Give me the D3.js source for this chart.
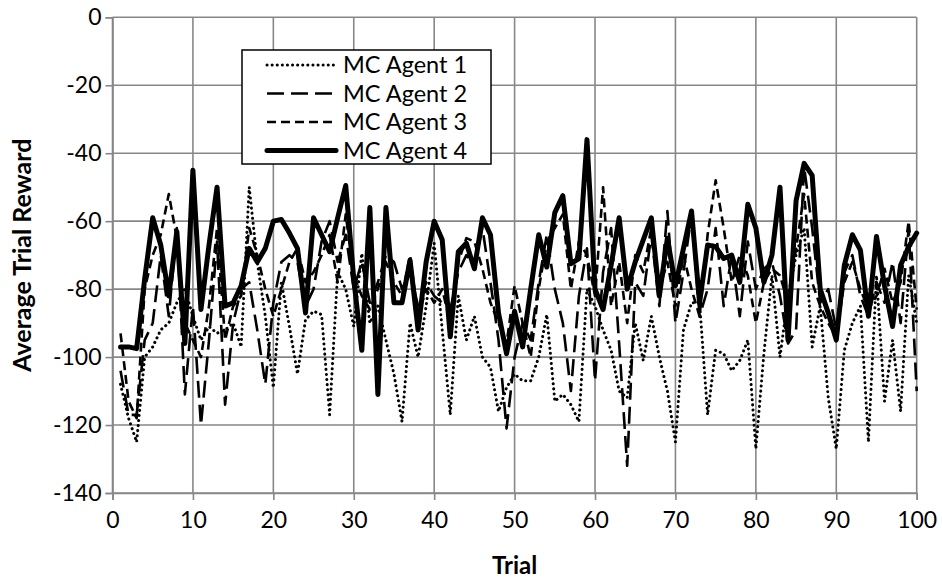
<!DOCTYPE html>
<html><head><meta charset="utf-8">
<script src="https://cdn.jsdelivr.net/npm/d3@7"></script>
<style>body{margin:0;background:#fff}svg{display:block}</style>
</head><body>
<svg id="chart" width="942" height="580"></svg>
<script>
const trials = d3.range(1, 101);
const agent1 = [-108,-118,-125,-100,-97,-92,-90,-84,-80,-88,
  -95,-91,-93,-92,-90,-97,-50,-72,-88,-109,
  -78,-91,-105,-89,-86.5,-87.5,-117,-75,-80,-91,
  -69.5,-90,-85,-95,-105,-119,-90,-100,-85,-66.5,
  -92,-117,-82,-95,-88,-100,-103,-116,-109,-105,
  -107,-107,-100,-87.5,-113,-111,-114,-119,-80,-85,
  -92,-98,-110,-112,-90,-101,-88,-100,-110,-125,
  -92,-84,-84,-117,-98,-99,-104,-101,-95,-127,
  -99,-76,-100,-82,-70,-62,-97,-85,-112,-127,
  -98,-90,-85,-125,-76,-113,-95,-116,-76,-90];
const agent2 = [-104,-117,-117,-95,-90,-70,-88,-62,-111,-85,
  -120,-95,-66,-114,-90,-80,-78,-92,-108,-84,
  -72,-70,-72,-85,-80,-66,-60,-72,-64,-80,
  -72,-84,-78,-70,-72,-80,-75,-85,-78,-82,
  -84,-86,-75,-70,-73,-62,-78,-95,-121,-100,
  -90,-95,-78,-64,-80,-90,-110,-82,-68,-107,
  -75,-62,-96,-132,-78,-82,-64,-85,-57,-90,
  -75,-58,-88,-80,-62,-85,-70,-88,-66,-80,
  -74,-72,-82,-96,-92,-44,-62,-84,-80,-92,
  -75,-70,-82,-88,-78,-84,-72,-90,-62,-110];
const agent3 = [-93,-113,-118,-80,-70,-64,-52,-65,-90,-95,
  -100,-85,-62,-95,-85,-82,-62,-70,-80,-88,
  -80,-72,-68,-78,-75,-70,-64,-78,-58,-76,
  -82,-86,-80,-72,-78,-82,-70,-88,-80,-84,
  -80,-90,-72,-65,-66,-74,-84,-90,-96,-79,
  -90,-100,-80,-66,-62,-58,-80,-66,-70,-82,
  -50,-85,-72,-90,-70,-75,-62,-80,-72,-85,
  -70,-80,-88,-64,-48,-62,-78,-70,-76,-90,
  -78,-74,-76,-84,-68,-52,-78,-85,-90,-94,
  -78,-72,-80,-86,-82,-74,-84,-78,-60,-86];
const agent4 = [-97,-97,-97.5,-77,-59,-67,-82,-63,-96,-45,
  -86,-67,-50,-85,-84,-79,-68,-72,-68,-60,
  -59.5,-63.5,-68,-87,-59,-64,-69,-59,-49.5,-77,
  -98,-56,-111,-56,-84,-84,-71.5,-92,-72,-60,
  -65.5,-94,-69,-66.5,-74,-59,-64,-87,-99,-86.5,
  -97,-80,-64,-73.5,-57.5,-52.5,-72.5,-71,-36,-80,
  -86,-73,-59,-80,-72,-65.5,-59,-82,-65,-79,
  -68,-57,-84,-67,-67.5,-71,-70,-78,-55,-62,
  -78,-70,-50,-95,-54,-43,-46.5,-80,-87,-95,
  -73,-64,-68.5,-88,-64.5,-79,-91,-73,-67.5,-63.5];
const seriesNames = ["MC Agent 1", "MC Agent 2", "MC Agent 3", "MC Agent 4"];
const xTicks = [0,10,20,30,40,50,60,70,80,90,100];
const yTicks = [0,-20,-40,-60,-80,-100,-120,-140];

const series = [
  {name: seriesNames[0], values: agent1, width: 3, dash: "0.1,5", cap: "round"},
  {name: seriesNames[1], values: agent2, width: 2.6, dash: "17,7", cap: "butt"},
  {name: seriesNames[2], values: agent3, width: 2.6, dash: "9,5", cap: "butt"},
  {name: seriesNames[3], values: agent4, width: 5, dash: null, cap: "round"}
];

const svg = d3.select("#chart");
const x = d3.scaleLinear().domain([0, 100]).range([112.5, 916.7]);
const y = d3.scaleLinear().domain([0, -140]).range([17.3, 493]);
const grid = "#878787";
const font = "Lato, 'Open Sans', sans-serif";

// grid lines
svg.append("g").selectAll("line").data(yTicks).join("line")
  .attr("x1", x(0)).attr("x2", x(100))
  .attr("y1", d => y(d)).attr("y2", d => y(d))
  .attr("stroke", grid).attr("stroke-width", 1.6);
svg.append("g").selectAll("line").data(xTicks).join("line")
  .attr("x1", d => x(d)).attr("x2", d => x(d))
  .attr("y1", y(0)).attr("y2", y(-140))
  .attr("stroke", grid).attr("stroke-width", 1.6);

// axes
const xAxis = svg.append("g").attr("transform", `translate(0,${y(-140)})`)
  .call(d3.axisBottom(x).tickValues(xTicks).tickSize(7).tickPadding(12));
const yAxis = svg.append("g").attr("transform", `translate(${x(0)},0)`)
  .call(d3.axisLeft(y).tickValues(yTicks).tickSize(7).tickPadding(4).tickFormat(d => d3.format("d")(d).replace("−","-")));
[xAxis, yAxis].forEach(a => {
  a.select(".domain").attr("stroke", grid).attr("stroke-width", 1.6);
  a.selectAll(".tick line").attr("stroke", grid).attr("stroke-width", 1.6);
  a.selectAll("text").attr("fill", "#000").attr("font-family", font).attr("font-size", 23);
});

// lines
const line = d3.line().x((d, i) => x(trials[i])).y(d => y(d));
svg.append("g").selectAll("path").data(series).join("path")
  .attr("d", s => line(s.values))
  .attr("fill", "none").attr("stroke", "#000")
  .attr("stroke-width", s => s.width)
  .attr("stroke-dasharray", s => s.dash)
  .attr("stroke-linecap", s => s.cap)
  .attr("stroke-linejoin", "round");

// axis titles
svg.append("text").attr("x", x(50)).attr("y", 574).attr("text-anchor", "middle")
  .attr("font-family", font).attr("font-weight", "bold").attr("font-size", 24).text("Trial");
svg.append("text").attr("transform", `translate(31,${y(-70)}) rotate(-90)`).attr("text-anchor", "middle")
  .attr("font-family", font).attr("font-weight", "bold").attr("font-size", 25).text("Average Trial Reward");

// legend
const lg = svg.append("g");
lg.append("rect").attr("x", 242).attr("y", 50).attr("width", 249).attr("height", 114)
  .attr("fill", "#fff").attr("stroke", "#000").attr("stroke-width", 1.5);
const rows = lg.selectAll("g").data(series).join("g")
  .attr("transform", (d, i) => `translate(0,${65 + i * 28.5})`);
rows.append("line").attr("x1", 267).attr("x2", 336).attr("y1", 0).attr("y2", 0)
  .attr("stroke", "#000").attr("stroke-width", d => d.width)
  .attr("stroke-dasharray", d => d.dash).attr("stroke-linecap", d => d.cap);
rows.append("text").attr("x", 343).attr("y", 0).attr("dy", "0.35em")
  .attr("font-family", font).attr("font-size", 23.5).text(d => d.name);
</script>
</body></html>
